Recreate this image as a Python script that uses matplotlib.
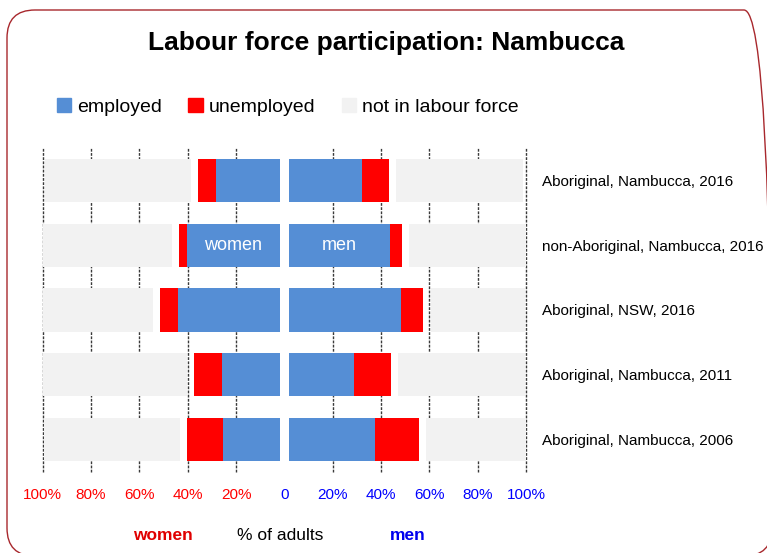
import numpy as np
import matplotlib
matplotlib.use('Agg')
import matplotlib.pyplot as plt
from matplotlib.patches import FancyBboxPatch, Patch
from matplotlib.transforms import IdentityTransform

plt.rcParams['font.family'] = ['Liberation Sans', 'DejaVu Sans']

# data (% of adults), rows top to bottom
groups = ['Aboriginal, Nambucca, 2016',
          'non-Aboriginal, Nambucca, 2016',
          'Aboriginal, NSW, 2016',
          'Aboriginal, Nambucca, 2011',
          'Aboriginal, Nambucca, 2006']
women_employed = [26.6, 38.5, 42.2, 23.9, 23.6]
women_unemployed = [7.2, 3.2, 7.3, 11.6, 14.9]
women_not_in_lf = [60.5, 53.3, 45.5, 59.7, 56.1]
men_employed = [30.5, 42.1, 46.3, 26.9, 35.6]
men_unemployed = [11.0, 4.6, 9.5, 15.3, 18.2]
men_not_in_lf = [52.4, 48.6, 39.1, 52.7, 42.4]

tick_vals = [-100, -80, -60, -40, -20, 0, 20, 40, 60, 80, 100]
tick_labels = ['100%', '80%', '60%', '40%', '20%', '0', '20%', '40%', '60%', '80%', '100%']

BLUE = '#558ED5'
RED = '#FF0000'
GREY = '#F2F2F2'
CENTER_GAP = 1.8   # white space either side of zero
SEG_GAP = 3.0      # white space before "not in labour force"

fig = plt.figure(figsize=(7.67, 5.53), dpi=100)
ax = fig.add_axes([0.0557, 0.1465, 0.6300, 0.5859])

y = np.arange(len(groups))
h = 0.667


def draw_side(sign, emp, unemp, nilf):
    emp = np.array(emp)
    unemp = np.array(unemp)
    nilf = np.array(nilf)
    start = np.full(len(emp), CENTER_GAP)
    ax.barh(y, sign * emp, left=sign * start, height=h, color=BLUE, zorder=2)
    ax.barh(y, sign * unemp, left=sign * (start + emp), height=h, color=RED, zorder=2)
    ax.barh(y, sign * nilf, left=sign * (start + emp + unemp + SEG_GAP), height=h,
            color=GREY, zorder=2)
    return start + emp / 2


w_mid = draw_side(-1, women_employed, women_unemployed, women_not_in_lf)
m_mid = draw_side(1, men_employed, men_unemployed, men_not_in_lf)

ax.text(-w_mid[1], y[1], 'women', color='white', fontsize=13, ha='center', va='center', zorder=3)
ax.text(m_mid[1], y[1], 'men', color='white', fontsize=13, ha='center', va='center', zorder=3)

for v in tick_vals:
    if v != 0:
        ax.axvline(v, color='#3a3a3a', lw=1, ls=(0, (2, 1)), zorder=0, clip_on=False)

ax.set_xlim(-100, 100)
ax.set_ylim(4.5, -0.5)
ax.set_xticks(tick_vals, tick_labels)
for lbl, v in zip(ax.get_xticklabels(), tick_vals):
    lbl.set_color(RED if v < 0 else '#0000FF')
ax.tick_params(axis='x', length=0, pad=11.5, labelsize=11)

ax.set_yticks(y, groups)
ax.yaxis.tick_right()
ax.tick_params(axis='y', length=0, pad=11.5, labelsize=11)
for s in ax.spines.values():
    s.set_visible(False)

fig.text(0.504, 0.922, 'Labour force participation: Nambucca', fontsize=19,
         fontweight='bold', ha='center', va='center')

handles = [Patch(color=BLUE), Patch(color=RED), Patch(color=GREY)]
fig.legend(handles, ['employed', 'unemployed', 'not in labour force'], loc='center',
           bbox_to_anchor=(0.375, 0.8065), ncol=3, frameon=False, fontsize=14,
           handlelength=0.75, handleheight=0.75, handletextpad=0.3, columnspacing=1.35)

fig.text(0.2125, 0.0325, 'women', color='#E00000', fontweight='bold', fontsize=12.5,
         ha='center', va='center')
fig.text(0.365, 0.0325, '% of adults', color='black', fontsize=12.5, ha='center', va='center')
fig.text(0.531, 0.0325, 'men', color='#0000EE', fontweight='bold', fontsize=12.5,
         ha='center', va='center')

# rounded outer frame
frame = FancyBboxPatch((7, -3), 765, 546, boxstyle='round,pad=0,rounding_size=28',
                       transform=IdentityTransform(), facecolor='none',
                       edgecolor='#A8282D', lw=1)
fig.patches.append(frame)

fig.savefig('out.png', dpi=100)
